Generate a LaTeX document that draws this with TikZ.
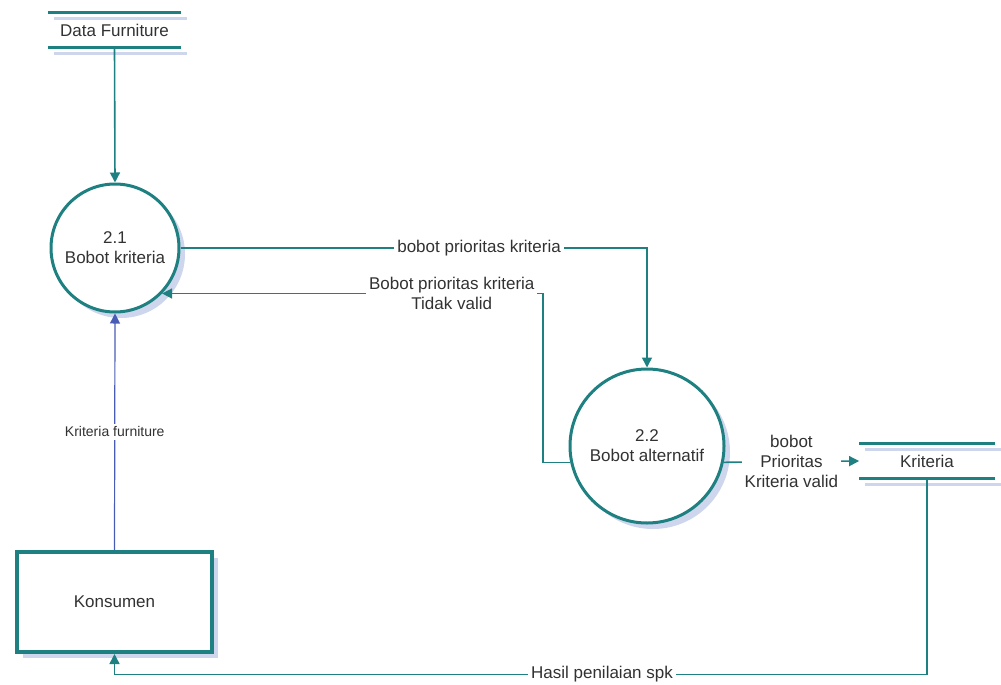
\documentclass[tikz,border=0pt]{standalone}
\usepackage{fontspec}
\setmainfont{Liberation Sans}
\usetikzlibrary{arrows.meta,shadows}
\definecolor{flowteal}{RGB}{30,128,128}
\definecolor{flowblue}{RGB}{72,92,182}
\definecolor{shadowbg}{RGB}{205,214,236}
\definecolor{textgray}{RGB}{50,50,50}
\def\Lbl{\fontsize{8.5}{10}\selectfont}
\def\Shift{3pt}
\tikzset{
  process/.style={circle, draw=flowteal, line width=1.5pt, fill=white,
    align=center, text=textgray, font=\Lbl,
    general shadow={fill=shadowbg, shadow xshift=\Shift, shadow yshift=-\Shift}},
  entity/.style={rectangle, draw=flowteal, line width=2pt, fill=white,
    text=textgray, font=\Lbl,
    general shadow={fill=shadowbg, shadow xshift=\Shift, shadow yshift=-\Shift}},
  storeline/.style={draw=flowteal, line width=1.5pt},
  storeshade/.style={draw=shadowbg, line width=1.5pt},
  store/.style={inner sep=0pt, text=textgray, font=\Lbl,
    append after command={
      ([shift={(\Shift,-\Shift)}]\tikzlastnode.north west) edge[storeshade] ([shift={(\Shift,-\Shift)}]\tikzlastnode.north east)
      ([shift={(\Shift,-\Shift)}]\tikzlastnode.south west) edge[storeshade] ([shift={(\Shift,-\Shift)}]\tikzlastnode.south east)
      (\tikzlastnode.north west) edge[storeline] (\tikzlastnode.north east)
      (\tikzlastnode.south west) edge[storeline] (\tikzlastnode.south east)}},
  flow/.style={draw=flowteal, line width=0.8pt, -{Triangle[length=5pt,width=5pt]}},
  flowlabel/.style={fill=white, inner sep=1.5pt, text=textgray, font=\Lbl, align=center}
}

\begin{document}
\begin{tikzpicture}[x=0.5pt,y=-0.5pt]
\useasboundingbox (0,0) rectangle (1001,685);
% stores, processes, entity
\node[store, minimum width=66.5pt, minimum height=17pt] (furn) at (114.5,30) {Data Furniture};
\node[store, minimum width=67.5pt, minimum height=17pt] (krit) at (927,461) {Kriteria};
\node[process, minimum size=64pt] (p21) at (115,248) {2.1\\Bobot kriteria};
\node[process, minimum size=77pt] (p22) at (647,446) {2.2\\Bobot alternatif};
\node[entity, minimum width=97.5pt, minimum height=50pt] (kons) at (114.5,602) {Konsumen};
% flows
\draw[flow] (furn.south) -- (p21.north);
\draw[flow] (p21.east) -| node[flowlabel, pos=0.32] {bobot prioritas kriteria} (p22.north);
\draw[flow] (p22.192) -- ++(-27,0) |- node[flowlabel, pos=0.62] {Bobot prioritas kriteria\\Tidak valid} (p21.-44);
\draw[flow] (p22.-12) -- node[flowlabel] {bobot\\Prioritas\\Kriteria valid} (krit.west);
\draw[flow] (krit.south) -- ++(0,196) -| node[flowlabel, pos=0.2, inner ysep=0.5pt] {Hasil penilaian spk} (kons.south);
\draw[flow, draw=flowblue, line width=0.6pt] (kons.north) -- node[flowlabel, font=\fontsize{7}{8}\selectfont] {Kriteria furniture} (p21.south);
\end{tikzpicture}
\end{document}
